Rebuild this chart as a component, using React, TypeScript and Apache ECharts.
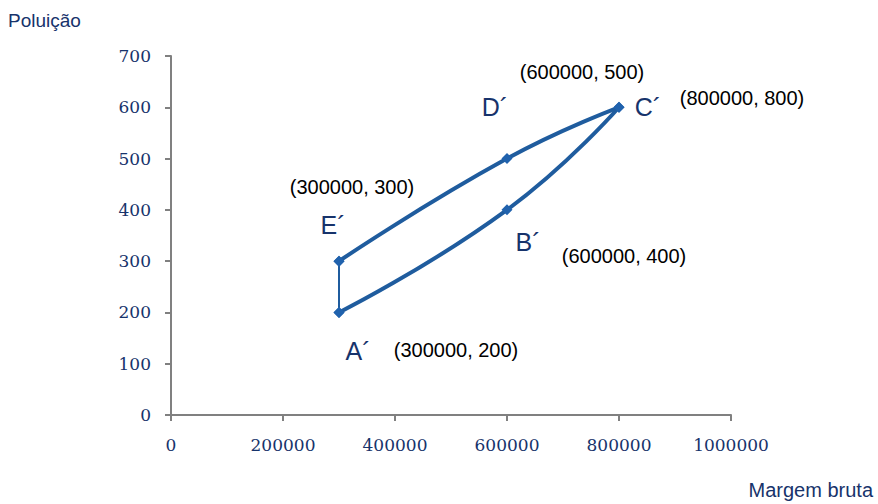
import React, { useEffect, useRef } from "react";
import * as echarts from "echarts";

// Data
const pointNames = ["A´", "B´", "C´", "D´", "E´"];
const pointX = [300000, 600000, 800000, 600000, 300000];
const pointY = [200, 400, 600, 500, 300];
const coordTexts = ["(300000, 200)", "(600000, 400)", "(800000, 800)", "(600000, 500)", "(300000, 300)"];
const lowerPath = [0, 1, 2]; // A -> B -> C
const upperPath = [2, 3, 4]; // C -> D -> E
const sidePath = [4, 0]; // E -> A
const xTicks = { min: 0, max: 1000000, interval: 200000 };
const yTicks = { min: 0, max: 700, interval: 100 };
const xTitle = "Margem bruta";
const yTitle = "Poluição";

// Styles (label offsets relative to each point)
const nameOffsets = [[19, 39], [21, 32], [29, 0], [-12, -52], [-6, -36]];
const coordOffsets = [[117, 38], [117, 46], [123, -9], [75, -87], [13, -74]];

const NAVY = "#17336b";
const LINE = "#1f5c9e";
const MARK = "#2062ad";
const AXIS = "#808080";

const pts = (idx: number[]) => idx.map((i) => [pointX[i], pointY[i]]);

export default function App() {
  const ref = useRef<HTMLDivElement>(null);
  useEffect(() => {
    if (!ref.current) return;
    const chart = echarts.init(ref.current, undefined, { renderer: "svg" });
    const axisCommon = {
      type: "value" as const,
      splitLine: { show: false },
      axisLine: { show: true, lineStyle: { color: AXIS, width: 2 } },
      axisTick: { show: true, inside: false, length: 6, lineStyle: { color: AXIS, width: 2 } },
    };
    const lineSeries = (idx: number[], width: number, smooth: boolean | number) => ({
      type: "line",
      data: pts(idx),
      smooth,
      symbol: "diamond",
      symbolSize: 11,
      showAllSymbol: true,
      lineStyle: { color: LINE, width },
      itemStyle: { color: MARK, borderWidth: 0, opacity: 1 },
      z: 3,
    });
    const labelSeries = (texts: string[], offsets: number[][], color: string, size: number) => ({
      type: "scatter",
      symbolSize: 0,
      silent: true,
      z: 5,
      itemStyle: { opacity: 1 },
      data: texts.map((t, i) => ({
        value: [pointX[i], pointY[i]],
        label: {
          show: true,
          formatter: t,
          position: "inside",
          offset: offsets[i],
          color,
          opacity: 1,
          fontFamily: "Liberation Sans",
          fontSize: size,
          align: "center",
          verticalAlign: "middle",
        },
      })),
    });
    const tickLabel = (margin: number) => ({
      color: NAVY,
      fontFamily: "DejaVu Serif",
      fontSize: 17,
      margin,
      formatter: (v: number) => String(v),
    });
    chart.setOption({
      animation: false,
      backgroundColor: "#ffffff",
      grid: { left: 171, right: 147, top: 56, bottom: 89, containLabel: false },
      xAxis: { ...axisCommon, ...xTicks, axisLabel: tickLabel(21) },
      yAxis: { ...axisCommon, ...yTicks, axisLabel: tickLabel(20) },
      graphic: [
        {
          type: "text",
          left: 8,
          top: 11,
          style: { text: yTitle, fill: NAVY, font: '19px "Liberation Sans"' },
        },
        {
          type: "text",
          right: 5,
          top: 480,
          style: { text: xTitle, fill: NAVY, font: '20px "Liberation Sans"' },
        },
      ],
      series: [
        lineSeries(sidePath, 2, false),
        lineSeries(lowerPath, 4, 0.5),
        lineSeries(upperPath, 4, 0.5),
        labelSeries(pointNames, nameOffsets, NAVY, 25),
        labelSeries(coordTexts, coordOffsets, "#000000", 20),
      ],
    });
    return () => chart.dispose();
  }, []);
  return (
    <div
      ref={ref}
      style={{ position: "fixed", left: 0, top: 0, width: 878, height: 504, background: "#fff" }}
    />
  );
}
